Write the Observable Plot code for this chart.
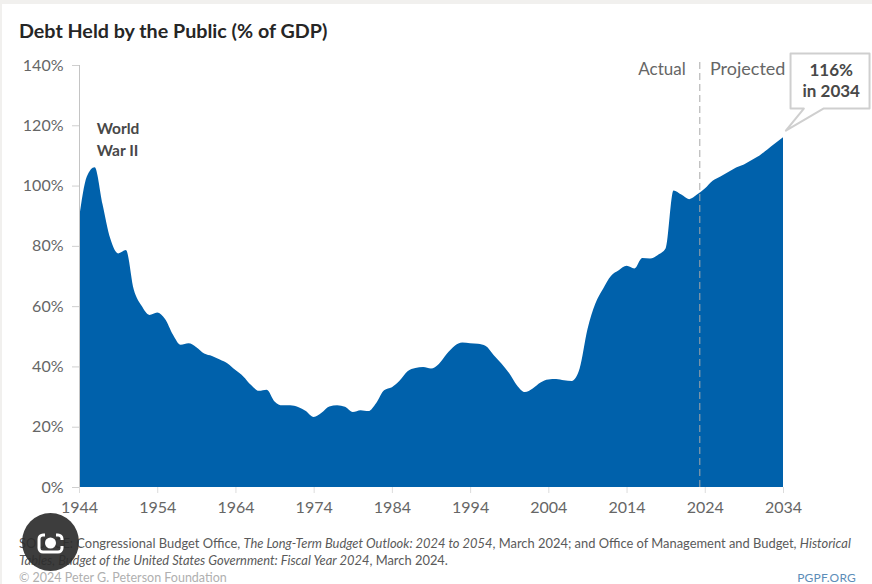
<!DOCTYPE html>
<html>
<head>
<meta charset="utf-8">
<script src="https://cdn.jsdelivr.net/npm/d3@7"></script>
<script src="https://cdn.jsdelivr.net/npm/@observablehq/plot@0.6"></script>
<style>
  html, body { margin: 0; padding: 0; background: #f1f0ee; }
  #page { position: relative; width: 870px; height: 580px; margin: 4px 0 0 2px; background: #fff; font-family: Lato, sans-serif; overflow: hidden; }
  #title { position: absolute; left: 17px; top: 15px; font-size: 19.7px; font-weight: 700; color: #262626; white-space: nowrap; }
  #chart { position: absolute; left: -2px; top: 42px; }
  #chart svg { overflow: visible; display: block; }
  #source { position: absolute; left: 17px; top: 531px; font-size: 12.9px; line-height: 17px; color: #5a5a5a; white-space: nowrap; }
  #copyright { position: absolute; left: 17px; top: 567px; font-size: 12.5px; line-height: 13px; color: #b0b0b0; white-space: nowrap; }
  #site { position: absolute; right: 16px; top: 567px; font-size: 12px; line-height: 13px; color: #5c8db8; letter-spacing: .2px; }
  #lens { position: absolute; left: 20px; top: 509px; width: 57px; height: 58px; border-radius: 50%; background: rgba(45,45,45,.92); }
  #lens svg { display: block; }
</style>
</head>
<body>
<div id="page">
  <div id="title">Debt Held by the Public (% of GDP)</div>
  <div id="chart"></div>
  <div id="source">SOURCE: Congressional Budget Office, <i>The Long-Term Budget Outlook: 2024 to 2054</i>, March 2024; and Office of Management and Budget, <i>Historical</i><br><i>Tables, Budget of the United States Government: Fiscal Year 2024</i>, March 2024.</div>
  <div id="copyright">© 2024 Peter G. Peterson Foundation</div>
  <div id="site">PGPF.ORG</div>
  <div id="lens">
    <svg width="57" height="58" viewBox="0 0 57 58" fill="none" stroke="#fff" stroke-width="3">
      <path d="M23 22h-2a4 4 0 0 0-4 4v9a4 4 0 0 0 4 4h15a4 4 0 0 0 4-4v-2M34 22h2a4 4 0 0 1 4 4v1"/>
      <circle cx="28.5" cy="30" r="4" fill="#fff"/>
    </svg>
  </div>
</div>
<script>
// Federal debt held by the public, percent of GDP, by fiscal year
const years = d3.range(1944, 2035);
const debtShare = [
  89, 103, 106.1, 93.9, 82.4, 77.5, 78.6, 65.5, 60.1, 57.1,
  57.9, 55.7, 50.6, 47.2, 47.7, 46.4, 44.3, 43.5, 42.3, 41,
  38.8, 36.7, 33.8, 31.9, 32.3, 28.4, 27.1, 27.1, 26.5, 25.2,
  23.2, 24.6, 26.7, 27.1, 26.6, 24.9, 25.5, 25.2, 27.9, 32.1,
  33.1, 35.3, 38.4, 39.5, 39.8, 39.3, 40.8, 44.1, 46.8, 47.9,
  47.7, 47.5, 46.8, 43.8, 41, 37.7, 33.7, 31.5, 32.7, 34.7,
  35.7, 35.8, 35.4, 35.2, 39.3, 52.3, 60.8, 65.8, 70, 71.9,
  73.4, 72.5, 76, 75.8, 77, 79.2, 98.4, 97, 95.5, 97,
  99, 101.6, 103, 104.5, 106, 107, 108.5, 110, 112, 114,
  116
];
const debtRows = years.map((year, i) => ({year, share: debtShare[i]}));

const xTicks = d3.range(1944, 2035, 10);
const yTicks = d3.range(0, 141, 20);
const splitYear = 2023.3;

// Speech-bubble outline for the 2034 callout, in chart units
const bubbleYears = [2034.9, 2045, 2045, 2039.1, 2034.3, 2036.6, 2034.9, 2034.9];
const bubbleShares = [144, 144, 125.7, 125.7, 118.4, 125.7, 125.7, 144];
const bubble = bubbleYears.map((year, i) => ({year, share: bubbleShares[i]}));

const chart = Plot.plot({
  width: 872,
  height: 480,
  marginLeft: 79,
  marginRight: 89,
  marginTop: 19,
  marginBottom: 39,
  style: {fontFamily: "Lato, sans-serif", background: "transparent"},
  x: {domain: [1944, 2034]},
  y: {domain: [0, 140]},
  marks: [
    Plot.areaY(debtRows, {x: "year", y: "share", fill: "#0061ab", curve: "monotone-x"}),
    Plot.ruleX([1944], {stroke: "#c4c4c4"}),
    Plot.ruleX([splitYear], {y1: 0, y2: 142.3, stroke: "#a9a9a9", strokeDasharray: "7,4"}),
    Plot.axisY({
      ticks: yTicks, tickFormat: d => d + "%", tickSize: 7, tickPadding: 9,
      stroke: "#cfcfcf", fill: "#666", fontSize: 16, label: null
    }),
    Plot.axisX({
      ticks: xTicks, tickFormat: d => String(d), tickSize: 6, tickPadding: 8,
      stroke: "#dcdcdc", fill: "#666", fontSize: 16, label: null
    }),
    Plot.line(bubble, {x: "year", y: "share", stroke: "#cfcfcf", strokeWidth: 2, fill: "#fff"}),
    Plot.text(["116%\nin 2034"], {
      x: [2040.1], y: [135.2], fontSize: 17, fontWeight: 700, fill: "#484848", lineHeight: 1.2
    }),
    Plot.text(["Actual"], {x: [2021.5], y: [138.7], textAnchor: "end", fontSize: 17, fill: "#666"}),
    Plot.text(["Projected"], {x: [2024.6], y: [138.7], textAnchor: "start", fontSize: 18, fill: "#666"}),
    Plot.text(["World\nWar II"], {
      x: [1946.2], y: [115.8], textAnchor: "start", fontSize: 15.5, fontWeight: 700, fill: "#484848", lineHeight: 1.42
    })
  ]
});
document.getElementById("chart").append(chart);
</script>
</body>
</html>
